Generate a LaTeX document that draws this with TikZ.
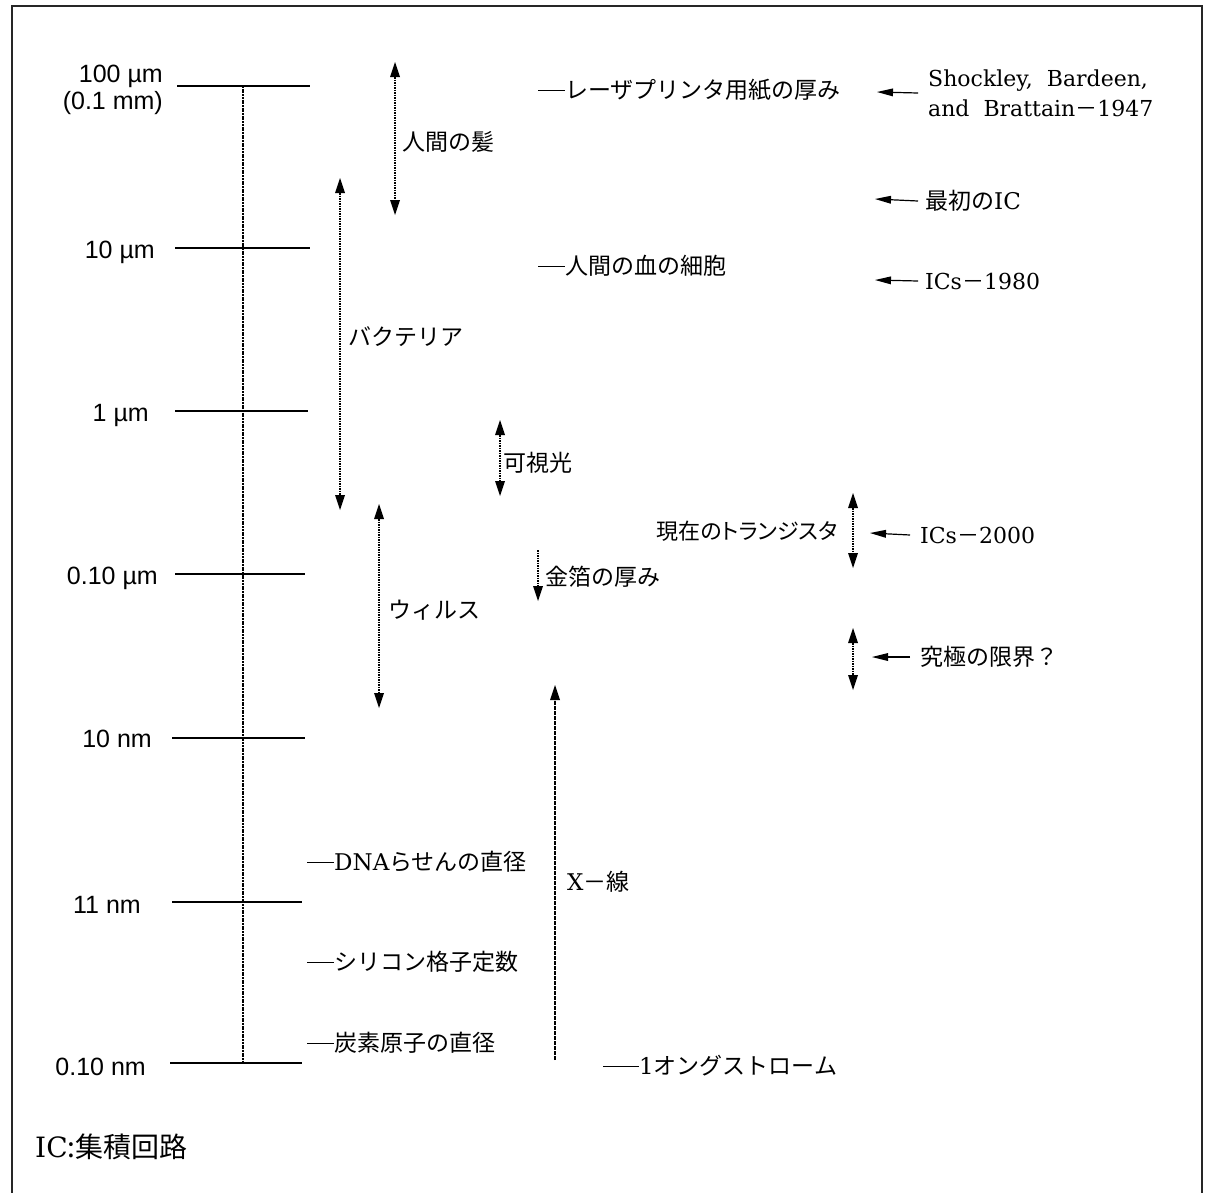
\documentclass[tikz,border=0pt]{standalone}
\usepackage{fontspec}
\usetikzlibrary{arrows.meta}
\setmainfont{Liberation Serif}
\newfontfamily\jp{Noto Sans CJK JP}
\newfontfamily\jpp[RawFeature=+palt]{Noto Sans CJK JP}
\newfontfamily\snum{Liberation Sans}
\newfontfamily\ser{DejaVu Serif}
\newcommand{\ldr}[1]{\rule[0.33em]{#1}{0.8pt}}
\tikzset{
  ticka/.style={line width=1.2pt},
  axisln/.style={line width=1.1pt, dash pattern=on 2pt off 0.7pt},
  dotshaft/.style={line width=1.2pt, dash pattern=on 1.8pt off 0.7pt},
  vtip/.tip={Triangle[length=15pt,width=10pt,line width=0pt,fill=black]},
  htip/.tip={Triangle[length=16pt,width=8pt,line width=0pt,fill=black]},
  dblarr/.style={dotshaft, vtip-vtip},
  downarr/.style={dotshaft, -vtip},
  leftarr/.style={line width=1.2pt, -htip},
  num/.style={font=\snum\fontsize{25}{29}\selectfont, inner sep=0pt, anchor=base east},
  lab/.style={font=\jp\fontsize{23}{27}\selectfont, inner sep=0pt, anchor=west},
  serlab/.style={font=\ser\fontsize{22}{30}\selectfont, inner sep=0pt, anchor=west},
}
\begin{document}
\begin{tikzpicture}[x=1pt,y=-1pt]
\useasboundingbox (0,0) rectangle (1207,1192);
% frame
\draw[line width=2.6pt, black!85] (12,1195) -- (12,6) -- (1202,6) -- (1202,1195);

% axis coordinates
\coordinate (a1) at (243,86);
\coordinate (a7) at (243,1063);
\draw[axisln] (a1) -- (a7);

% ticks
\draw[line width=1.8pt] (177,86) -- (310,86);
\draw[ticka] (175,248) -- (310,248);
\draw[ticka] (175,411) -- (308,411);
\draw[ticka] (175,574) -- (305,574);
\draw[ticka] (172,738) -- (305,738);
\draw[ticka] (172,902) -- (302,902);
\draw[ticka] (170,1063) -- (302,1063);

% tick labels
\node[num] (n100) at (163,82) {100 µm};
\node[num] (n01mm) at (163,109) {(0.1 mm)};
\node[num] (n10u) at (155,258) {10 µm};
\node[num] (n1u) at (149,421) {1 µm};
\node[num] (n01u) at (158,584) {0.10 µm};
\node[num] (n10n) at (152,747) {10 nm};
\node[num] (n11n) at (141,913) {11 nm};
\node[num] (n01n) at (146,1075) {0.10 nm};

% middle labels
\node[lab] (laser) at (538,90) {\ldr{27pt}レーザプリンタ用紙の厚み};
\node[lab] (blood) at (538,266) {\ldr{27pt}人間の血の細胞};
\node[lab] (hair) at (402,142) {人間の髪};
\node[lab] (bact) at (348,337) {バクテリア};
\node[lab] (vis) at (503,463) {可視光};
\node[lab] (virus) at (388,610) {ウィルス};
\node[lab] (gold) at (545,577) {金箔の厚み};
\node[lab, anchor=east, font=\jpp\fontsize{22}{26}\selectfont] (trans) at (838,531) {現在のトランジスタ};
\node[lab] (dna) at (307,862) {\ldr{27pt}{\ser DNA}らせんの直径};
\node[lab] (si) at (307,962) {\ldr{27pt}シリコン格子定数};
\node[lab] (carbon) at (307,1043) {\ldr{27pt}炭素原子の直径};
\node[lab] (ang) at (603,1066) {\ldr{36pt}{\ser 1}オングストローム};
\node[lab] (xray) at (567,882) {{\ser X}－線};

% right labels
\node[serlab, align=left] (shock) at (928,93) {Shockley,\ \ Bardeen,\\and\ \ Brattain{\jp －}1947};
\node[lab] (firstic) at (925,201) {最初の{\ser IC}};
\node[serlab] (ic80) at (925,281) {ICs{\jp －}1980};
\node[serlab] (ic00) at (920,535) {ICs{\jp －}2000};
\node[lab] (limit) at (920,657) {究極の限界？};
\node[lab, anchor=west, font=\jp\fontsize{28}{32}\selectfont] (note) at (35,1147) {{\ser IC}:集積回路};

% double arrows
\coordinate (h1) at (395,62);  \coordinate (h2) at (395,215);
\coordinate (b1) at (340,178); \coordinate (b2) at (340,510);
\coordinate (v1) at (500,420); \coordinate (v2) at (500,496);
\coordinate (w1) at (379,504); \coordinate (w2) at (379,708);
\coordinate (t1) at (853,493); \coordinate (t2) at (853,568);
\coordinate (u1) at (853,628); \coordinate (u2) at (853,690);
\draw[dblarr] (h1) -- (h2);
\draw[dblarr] (b1) -- (b2);
\draw[dblarr] (v1) -- (v2);
\draw[dblarr] (w1) -- (w2);
\draw[dblarr] (t1) -- (t2);
\draw[dblarr] (u1) -- (u2);
\coordinate (g1) at (538,550); \coordinate (g2) at (538,601);
\draw[downarr] (g1) -- (g2);
\coordinate (x1) at (555,1060); \coordinate (x2) at (555,685);
\draw[downarr] (x1) -- (x2);

% left-pointing arrows
\coordinate (s1) at (877,92);
\coordinate (f1) at (875,199);
\coordinate (c1) at (875,280);
\coordinate (d1) at (870,533);
\coordinate (l1) at (872,657);
\draw[leftarr] ([xshift=-10pt]shock.west) -- (s1);
\draw[leftarr] ([xshift=-7pt]firstic.west) -- (f1);
\draw[leftarr] ([xshift=-7pt]ic80.west) -- (c1);
\draw[leftarr] ([xshift=-10pt]ic00.west) -- (d1);
\draw[leftarr] ([xshift=-10pt]limit.west) -- (l1);
\end{tikzpicture}
\end{document}
